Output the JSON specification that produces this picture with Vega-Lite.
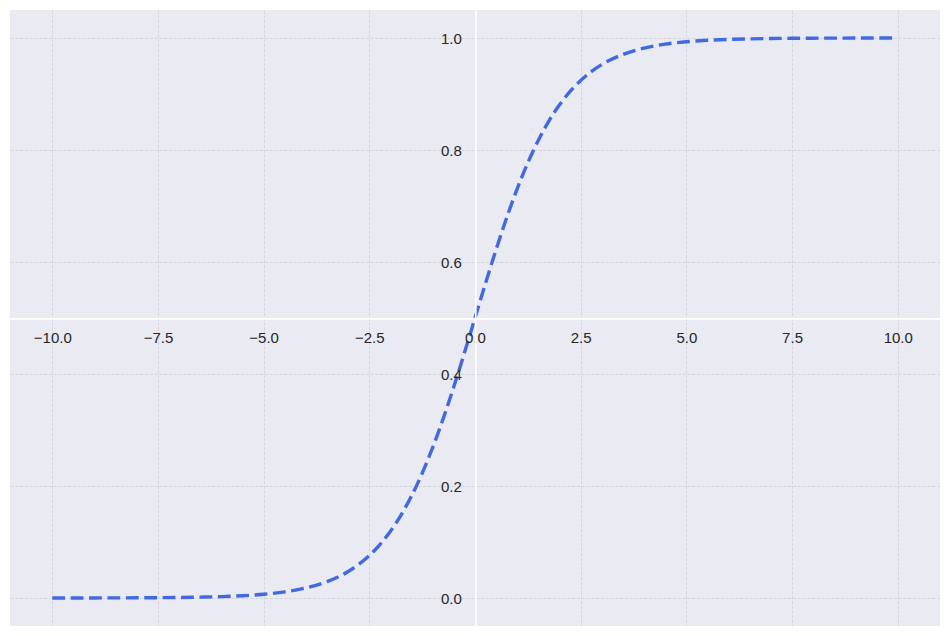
{
  "$schema": "https://vega.github.io/schema/vega-lite/v6.json",
  "width": 930,
  "height": 616,
  "autosize": {"type": "none"},
  "padding": {"left": 10, "top": 10, "right": 10, "bottom": 10},
  "background": "white",
  "view": {"fill": "#EAEAF2", "stroke": null},
  "data": {"values": [
    {"x": -10, "y": 0.0000454},
    {"x": -9.5, "y": 0.0000749},
    {"x": -9, "y": 0.0001234},
    {"x": -8.5, "y": 0.0002035},
    {"x": -8, "y": 0.0003354},
    {"x": -7.5, "y": 0.000553},
    {"x": -7, "y": 0.000911},
    {"x": -6.5, "y": 0.001501},
    {"x": -6, "y": 0.002473},
    {"x": -5.5, "y": 0.00407},
    {"x": -5, "y": 0.006693},
    {"x": -4.5, "y": 0.010987},
    {"x": -4, "y": 0.017986},
    {"x": -3.5, "y": 0.029312},
    {"x": -3, "y": 0.047426},
    {"x": -2.75, "y": 0.060087},
    {"x": -2.5, "y": 0.075858},
    {"x": -2.25, "y": 0.095349},
    {"x": -2, "y": 0.119203},
    {"x": -1.75, "y": 0.148047},
    {"x": -1.5, "y": 0.182426},
    {"x": -1.25, "y": 0.2227},
    {"x": -1, "y": 0.268941},
    {"x": -0.75, "y": 0.320821},
    {"x": -0.5, "y": 0.377541},
    {"x": -0.25, "y": 0.437823},
    {"x": 0, "y": 0.5},
    {"x": 0.25, "y": 0.562177},
    {"x": 0.5, "y": 0.622459},
    {"x": 0.75, "y": 0.679179},
    {"x": 1, "y": 0.731059},
    {"x": 1.25, "y": 0.7773},
    {"x": 1.5, "y": 0.817574},
    {"x": 1.75, "y": 0.851953},
    {"x": 2, "y": 0.880797},
    {"x": 2.25, "y": 0.904651},
    {"x": 2.5, "y": 0.924142},
    {"x": 2.75, "y": 0.939913},
    {"x": 3, "y": 0.952574},
    {"x": 3.5, "y": 0.970688},
    {"x": 4, "y": 0.982014},
    {"x": 4.5, "y": 0.989013},
    {"x": 5, "y": 0.993307},
    {"x": 5.5, "y": 0.99593},
    {"x": 6, "y": 0.997527},
    {"x": 6.5, "y": 0.998499},
    {"x": 7, "y": 0.999089},
    {"x": 7.5, "y": 0.999447},
    {"x": 8, "y": 0.999665},
    {"x": 8.5, "y": 0.999797},
    {"x": 9, "y": 0.999877},
    {"x": 9.5, "y": 0.999925},
    {"x": 9.9, "y": 0.99995}
  ]},
  "resolve": {"axis": {"x": "independent", "y": "independent"}},
  "layer": [
    {
      "mark": {"type": "line", "strokeOpacity": 0, "clip": false},
      "encoding": {
        "x": {
          "field": "x",
          "type": "quantitative",
          "scale": {"domain": [-11, 11], "nice": false, "zero": false},
          "axis": {
            "title": null,
            "orient": "bottom",
            "values": [-10, -7.5, -5, -2.5, 0, 2.5, 5, 7.5, 10],
            "labels": false,
            "domain": false,
            "ticks": false,
            "grid": true,
            "gridColor": "#cfcfd4",
            "gridWidth": 0.8,
            "gridDash": [3.2, 1.6],
            "zindex": 0
          }
        },
        "y": {
          "field": "y",
          "type": "quantitative",
          "scale": {"domain": [-0.05, 1.05], "nice": false, "zero": false},
          "axis": {
            "title": null,
            "orient": "left",
            "values": [0, 0.2, 0.4, 0.6, 0.8, 1.0],
            "labels": false,
            "domain": false,
            "ticks": false,
            "grid": true,
            "gridColor": "#cfcfd4",
            "gridWidth": 0.8,
            "gridDash": [3.2, 1.6],
            "zindex": 0
          }
        }
      }
    },
    {
      "mark": {
        "type": "line",
        "color": "#4169E1",
        "strokeWidth": 3.4,
        "strokeDash": [12.8, 5.6],
        "interpolate": "monotone",
        "clip": false
      },
      "encoding": {
        "x": {
          "field": "x",
          "type": "quantitative",
          "axis": {
            "title": null,
            "orient": "bottom",
            "offset": -307.7,
            "values": [-10, -7.5, -5, -2.5, 0, 2.5, 5, 7.5, 10],
            "format": ".1f",
            "domainColor": "white",
            "domainWidth": 1.7,
            "ticks": false,
            "tickSize": 0,
            "labelPadding": 12,
            "labelFont": "Liberation Sans",
            "labelFontSize": 15,
            "labelColor": "#262626",
            "labelOverlap": false,
            "labelFlush": false,
            "labelBound": false,
            "grid": false,
            "zindex": 1
          }
        },
        "y": {
          "field": "y",
          "type": "quantitative",
          "axis": {
            "title": null,
            "orient": "left",
            "offset": -465.3,
            "values": [0, 0.2, 0.4, 0.6, 0.8, 1.0],
            "format": ".1f",
            "domainColor": "white",
            "domainWidth": 1.7,
            "ticks": false,
            "tickSize": 0,
            "labelPadding": 14,
            "labelFont": "Liberation Sans",
            "labelFontSize": 15,
            "labelColor": "#262626",
            "labelOverlap": false,
            "labelFlush": false,
            "labelBound": false,
            "grid": false,
            "zindex": 1
          }
        }
      }
    }
  ]
}
